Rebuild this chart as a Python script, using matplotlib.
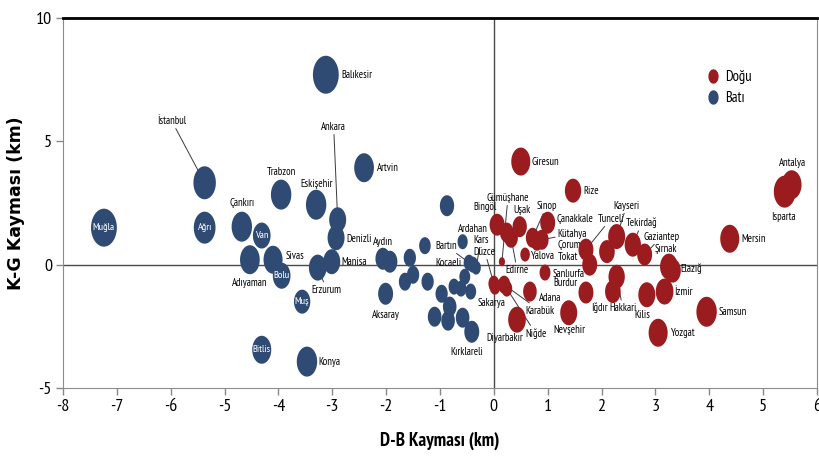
import numpy as np
import matplotlib
matplotlib.use("Agg")
import matplotlib.pyplot as plt
from matplotlib.path import Path
from matplotlib.lines import Line2D

plt.rcParams['font.family'] = ['PT Sans Narrow', 'DejaVu Sans']
plt.rcParams['axes.unicode_minus'] = False

# --- veriler ---
bati_ad = ["Muğla", "Ağrı", "İstanbul", "Çankırı", "Van", "Adıyaman", "Sivas", "Bolu",
           "Trabzon", "Eskişehir", "Balıkesir", "Ankara", "Denizli", "Manisa", "Erzurum",
           "Muş", "Bitlis", "Konya", "Artvin", "Aydın", "", "Aksaray", "", "", "", "", "",
           "", "", "", "", "", "Kırklareli", "", "", "", "Kocaeli", "Bartın", "Ardahan",
           "", "Kars", ""]
bati_x = [-7.24, -5.37, -5.37, -4.68, -4.31, -4.53, -4.10, -3.94,
          -3.95, -3.30, -3.12, -2.90, -2.93, -3.01, -3.27,
          -3.56, -4.31, -3.47, -2.41, -2.06, -1.93, -2.01, -1.56, -1.50, -1.65, -1.28, -1.23,
          -0.97, -1.10, -0.82, -0.85, -0.58, -0.41, -0.74, -0.61, -0.43, -0.39, -0.46, -0.58,
          -0.87, -0.33, -0.54]
bati_y = [1.50, 1.50, 3.32, 1.54, 1.18, 0.20, 0.20, -0.45,
          2.84, 2.43, 7.70, 1.82, 1.09, 0.12, -0.12,
          -1.50, -3.45, -3.93, 3.93, 0.24, 0.12, -1.18, 0.28, -0.41, -0.69, 0.77, -0.69,
          -1.18, -2.11, -1.70, -2.27, -2.15, -2.72, -0.89, -0.97, -1.09, 0.00, 0.08, 0.93,
          2.39, -0.12, -0.49]
bati_boyut = [19, 16, 16.5, 15, 13, 14.5, 14, 13,
              15, 15, 19, 12.5, 12.5, 12.5, 13,
              12, 14, 15, 14.5, 11, 11, 11, 9, 9, 9, 8.5, 9,
              9, 10, 10, 10, 10, 11, 8, 8, 8, 8, 8, 7.5,
              10.5, 7, 8]

dogu_ad = ["Giresun", "Rize", "Bingöl", "", "Uşak", "Edirne", "Gümüşhane", "Sinop",
           "Kütahya", "Çanakkale", "Çorum", "Yalova", "Şanlıurfa", "Adana", "Burdur",
           "Tokat", "Tunceli", "Kayseri", "", "Tekirdağ", "Gaziantep", "Şırnak", "Elazığ",
           "Hakkari", "Iğdır", "Kilis", "İzmir", "Yozgat", "Samsun", "Mersin", "Antalya",
           "Isparta", "Nevşehir", "Diyarbakır", "Niğde", "Karabük", "Düzce", "Sakarya"]
dogu_x = [0.50, 1.47, 0.06, 0.24, 0.48, 0.32, 0.15, 0.72,
          0.89, 1.00, 0.80, 0.58, 0.95, 0.67, 1.71,
          1.78, 1.71, 2.28, 2.10, 2.58, 2.80, 3.25, 3.32,
          2.28, 2.21, 2.84, 3.17, 3.05, 3.95, 4.38, 5.53,
          5.40, 1.39, 0.43, 0.24, 0.19, 0.00, 0.02]
dogu_y = [4.18, 3.00, 1.62, 1.30, 1.54, 1.09, 0.12, 1.09,
          1.01, 1.70, 0.93, 0.41, -0.32, -1.09, -1.13,
          0.00, 0.61, 1.14, 0.53, 0.81, 0.41, -0.08, -0.24,
          -0.49, -1.09, -1.22, -1.09, -2.76, -1.91, 1.05, 3.24,
          2.96, -1.95, -2.23, -0.97, -0.81, -0.77, -0.89]
dogu_boyut = [14, 12, 11, 10, 10.5, 10, 4.5, 10,
              10, 11, 9, 7, 8, 10, 11,
              11, 11, 12.5, 11.5, 12, 11, 13, 12,
              12, 11.5, 12.5, 13, 14, 15, 14, 14.5,
              16, 12.5, 13, 8, 9, 8, 8]

x_ticks = list(range(-8, 7))
y_ticks = [-5, 0, 5, 10]

# etiket yerleşimi: ad -> (dx px, dy px, hizalama, çizgi)
ic = "ic"
etiket = {
    "Muğla": ic, "Ağrı": ic, "Van": ic, "Bolu": ic, "Muş": ic, "Bitlis": ic,
    "İstanbul": (-33, 62, "center", True), "Çankırı": (0, 24, "center", False),
    "Adıyaman": (0, -23, "center", False), "Sivas": (13, 4, "left", False),
    "Trabzon": (0, 23, "center", False), "Eskişehir": (0, 21, "center", False),
    "Balıkesir": (16, 0, "left", False), "Ankara": (-4, 93, "center", True),
    "Denizli": (10, -1, "left", False), "Manisa": (10, 0, "left", False),
    "Erzurum": (9, -22, "center", True), "Konya": (11, 0, "left", False),
    "Artvin": (13, 0, "left", False), "Aydın": (0, 17, "center", False),
    "Aksaray": (0, -21, "center", False), "Kırklareli": (-5, -20, "center", False),
    "Kocaeli": (-11, 2, "right", True), "Bartın": (-23, 17, "center", True),
    "Ardahan": (10, 13, "center", False), "Kars": (5, 28, "center", True),
    "Giresun": (11, 0, "left", False), "Rize": (10, 0, "left", False),
    "Bingöl": (-12, 18, "center", False), "Uşak": (2, 17, "center", False),
    "Edirne": (6, -32, "center", True), "Gümüşhane": (6, 64, "center", True),
    "Sinop": (14, 32, "center", True), "Kütahya": (16, 6, "left", True),
    "Çanakkale": (9, 4, "left", False), "Çorum": (21, -3, "left", False),
    "Yalova": (6, -1, "left", False), "Şanlıurfa": (8, -1, "left", False),
    "Adana": (9, -6, "left", False), "Burdur": (-21, 10, "center", False),
    "Tokat": (-22, 8, "center", False), "Tunceli": (25, 31, "center", True),
    "Kayseri": (10, 31, "center", True), "Tekirdağ": (9, 22, "center", True),
    "Gaziantep": (17, 18, "center", True), "Şırnak": (-3, 18, "center", False),
    "Elazığ": (8, 2, "left", False), "Hakkari": (6, -31, "center", True),
    "Iğdır": (-13, -16, "center", False), "Kilis": (-4, -20, "center", False),
    "İzmir": (10, 0, "left", False), "Yozgat": (13, 0, "left", False),
    "Samsun": (12, 0, "left", False), "Mersin": (12, 0, "left", False),
    "Antalya": (1, 22, "center", False), "Isparta": (-1, -25, "center", False),
    "Nevşehir": (1, -17, "center", False), "Diyarbakır": (-12, -18, "center", False),
    "Niğde": (29, -45, "center", True), "Karabük": (36, -26, "center", True),
    "Düzce": (-9, 32, "center", True), "Sakarya": (-3, -16, "center", False),
}

kirmizi = "#9a1c1f"
mavi = "#2f4b73"

# elips şeklinde balon (grafik yatayda sıkıştırılmış)
t = np.linspace(0, 2 * np.pi, 64)
elips = Path(np.column_stack([0.68 * np.cos(t), np.sin(t)]), closed=True)

fig = plt.figure(figsize=(8.2, 4.62), dpi=100)
ax = fig.add_axes([63 / 820, 1 - 388 / 462, 754 / 820, 370 / 462])

px2pt = 0.72
for adlar, xs, ys, bs, renk in [(bati_ad, bati_x, bati_y, bati_boyut, mavi),
                                 (dogu_ad, dogu_x, dogu_y, dogu_boyut, kirmizi)]:
    s = (2 * np.array(bs) * px2pt) ** 2
    ax.scatter(xs, ys, s=s, marker=elips, color=renk, edgecolors='none', zorder=3)
    for ad, x, y in zip(adlar, xs, ys):
        if not ad:
            continue
        e = etiket[ad]
        if e == ic:
            ax.text(x, y, ad, color='white', fontsize=7.5, ha='center', va='center', zorder=4)
            continue
        dx, dy, ha, cizgi = e
        ap = dict(arrowstyle='-', lw=0.7, color='#3a3a3a', shrinkA=0, shrinkB=0) if cizgi else None
        ax.annotate(ad, (x, y), xytext=(dx * px2pt, dy * px2pt), textcoords='offset points',
                    ha=ha, va='center', fontsize=7.6, arrowprops=ap, zorder=2)

ax.axhline(0, color='#4a4a4a', lw=1, zorder=1)
ax.axvline(0, color='#4a4a4a', lw=1, zorder=1)

ax.set_xlim(-8, 6)
ax.set_ylim(-5, 10)
ax.set_xticks(x_ticks)
ax.set_yticks(y_ticks)
ax.tick_params(labelsize=13, length=5, color='#888888', width=1, pad=3)
for k in ['left', 'right', 'bottom']:
    ax.spines[k].set_color('#8c8c8c')
ax.spines['top'].set_color('black')
ax.spines['top'].set_linewidth(2)

ax.set_xlabel("D-B Kayması (km)", fontsize=13.5, fontweight='bold', labelpad=12)
ax.set_ylabel("K-G Kayması (km)", fontsize=12.5, fontweight='bold', family='DejaVu Sans', labelpad=8)

h = [Line2D([], [], ls='none', marker=elips, markersize=13 * px2pt, color=kirmizi),
     Line2D([], [], ls='none', marker=elips, markersize=13 * px2pt, color=mavi)]
ax.legend(h, ["Doğu", "Batı"], loc='upper left', bbox_to_anchor=(0.835, 0.895), frameon=False,
          fontsize=10.5, handletextpad=0.3, labelspacing=0.45, handlelength=1.0)

fig.savefig("out.png", dpi=100)
